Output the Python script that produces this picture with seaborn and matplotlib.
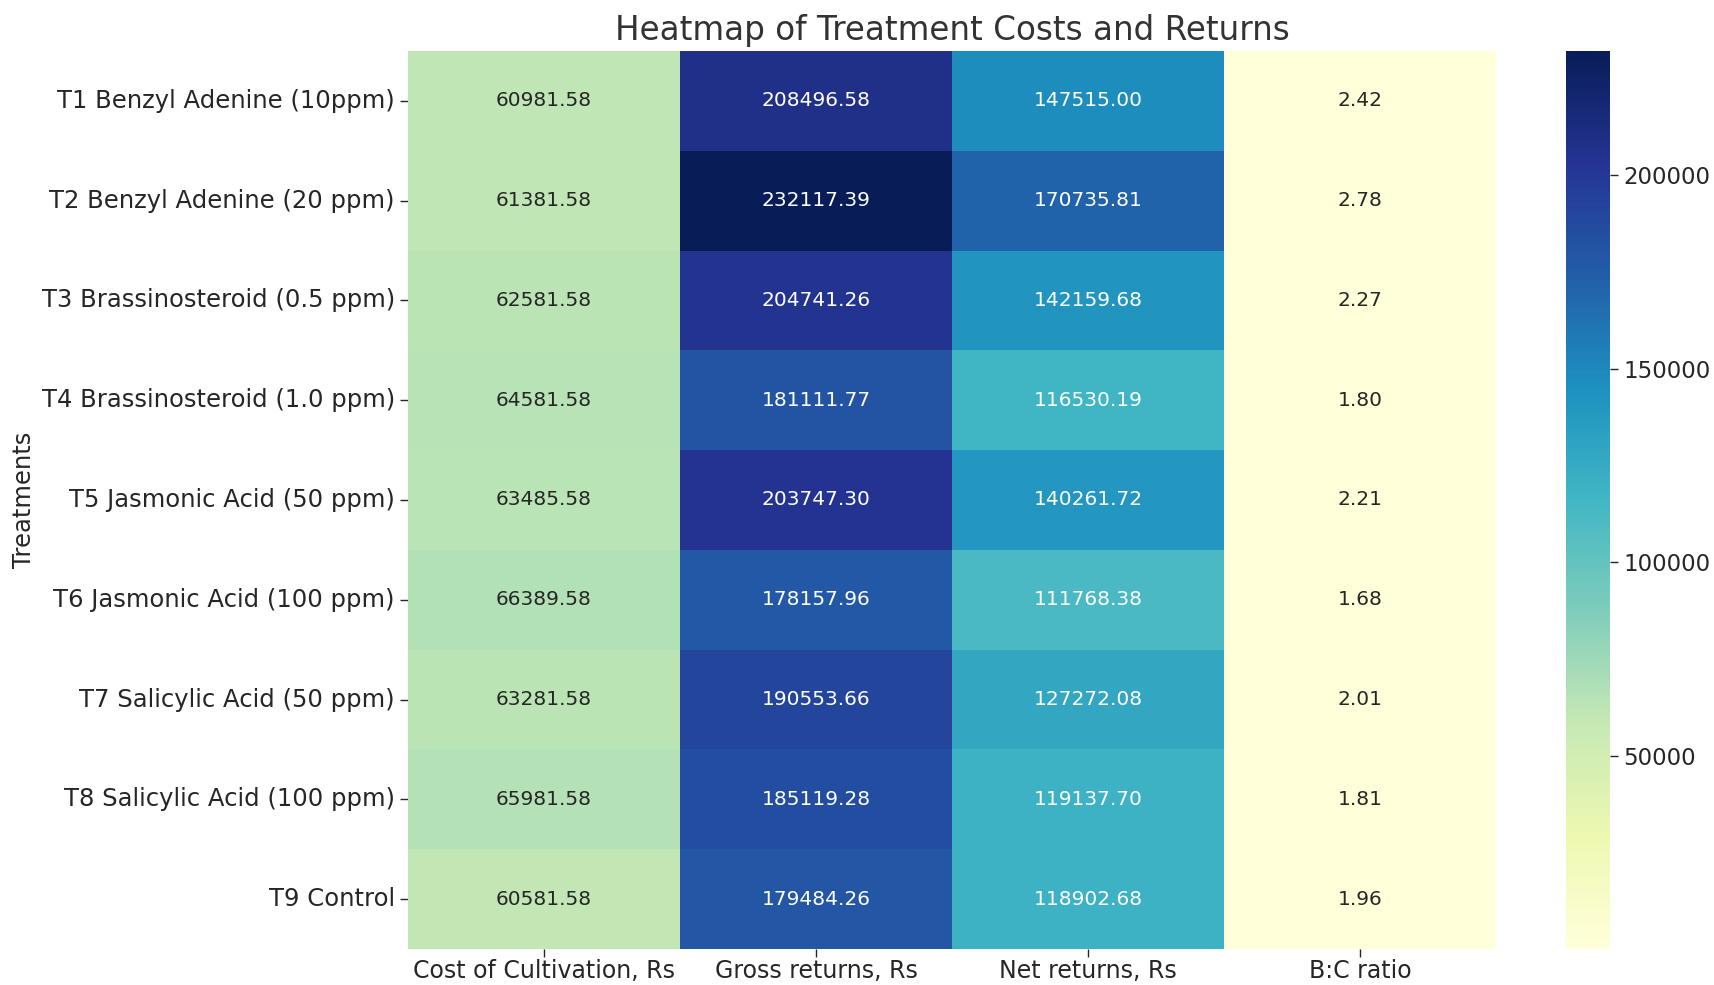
import numpy as np
import pandas as pd
import matplotlib
matplotlib.use("Agg")
import matplotlib.pyplot as plt
import seaborn as sns

# --- data ---
treatments = [
    "T1 Benzyl Adenine (10ppm)",
    "T2 Benzyl Adenine (20 ppm)",
    "T3 Brassinosteroid (0.5 ppm)",
    "T4 Brassinosteroid (1.0 ppm)",
    "T5 Jasmonic Acid (50 ppm)",
    "T6 Jasmonic Acid (100 ppm)",
    "T7 Salicylic Acid (50 ppm)",
    "T8 Salicylic Acid (100 ppm)",
    "T9 Control",
]
cost = [60981.58, 61381.58, 62581.58, 64581.58, 63485.58, 66389.58, 63281.58, 65981.58, 60581.58]
gross = [208496.58, 232117.39, 204741.26, 181111.77, 203747.30, 178157.96, 190553.66, 185119.28, 179484.26]
net = [147515.00, 170735.81, 142159.68, 116530.19, 140261.72, 111768.38, 127272.08, 119137.70, 118902.68]
bc_ratio = [2.42, 2.78, 2.27, 1.80, 2.21, 1.68, 2.01, 1.81, 1.96]

columns = ["Cost of Cultivation, Rs", "Gross returns, Rs", "Net returns, Rs", "B:C ratio"]

df = pd.DataFrame({
    columns[0]: cost,
    columns[1]: gross,
    columns[2]: net,
    columns[3]: bc_ratio,
}, index=treatments)
df.index.name = "Treatments"

sns.set_style("white")
plt.rcParams['font.family'] = ['DejaVu Sans']
plt.rcParams['text.color'] = '#262626'
plt.rcParams['xtick.color'] = '#262626'
plt.rcParams['ytick.color'] = '#262626'
plt.rcParams['axes.labelcolor'] = '#262626'

fig = plt.figure(figsize=(17.15, 9.85), dpi=100)
ax = fig.add_axes([0.2379, 0.0365, 0.6344, 0.9118])
cax = fig.add_axes([0.9131, 0.0365, 0.0257, 0.9118])

sns.heatmap(df, annot=True, fmt=".2f", cmap="YlGnBu", ax=ax, cbar_ax=cax,
            annot_kws={"size": 14.5})

ax.set_title("Heatmap of Treatment Costs and Returns", fontsize=23.5, color='#333333', pad=8)
ax.set_ylabel("Treatments", fontsize=17.5)
ax.set_xlabel("")
ax.tick_params(axis='both', labelsize=17.5, length=6, width=1, bottom=True, left=True)
ax.tick_params(axis='x', labelsize=17, pad=1)
plt.setp(ax.get_yticklabels(), rotation=0)
plt.setp(ax.get_xticklabels(), rotation=0)

cax.tick_params(labelsize=16.5, length=6, width=1)
cax.set_yticks([50000, 100000, 150000, 200000])

plt.savefig("out.png", dpi=100)
